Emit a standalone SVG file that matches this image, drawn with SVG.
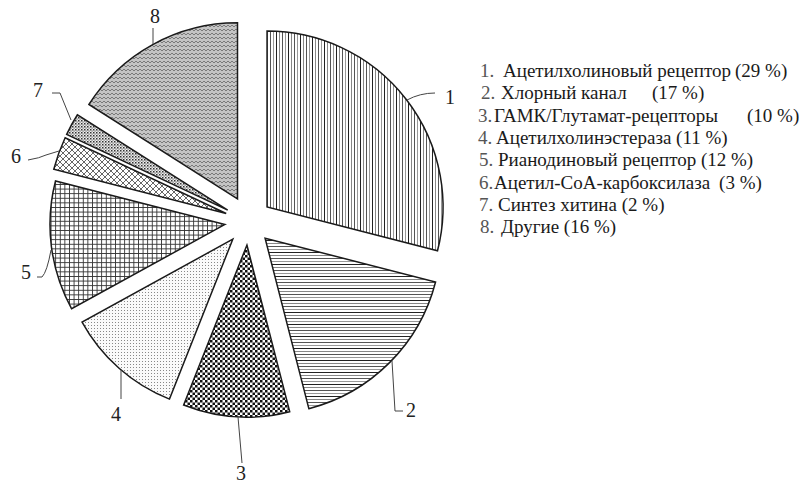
<svg xmlns="http://www.w3.org/2000/svg" width="803" height="484" viewBox="0 0 803 484">
<style>
.slice{stroke:#1a1a1a;stroke-width:1.5;stroke-linejoin:miter}
.lead{fill:none;stroke:#444;stroke-width:1}
.num{font-family:"Liberation Serif","Times New Roman",serif;font-size:20px;fill:#222;text-anchor:middle}
.leg{font-family:"Liberation Serif","Times New Roman",serif;font-size:19px;fill:#1a1a1a}
.ln{fill:#555}
</style>
<defs>
<pattern id="p1" width="12" height="4" patternUnits="userSpaceOnUse">
<rect width="12" height="4" fill="#fff"/>
<rect x="0" width="1" height="4" fill="#222"/>
<rect x="3" width="1" height="4" fill="#888"/>
<rect x="6" width="1" height="4" fill="#555"/>
<rect x="9" width="1" height="4" fill="#999"/>
</pattern>
<pattern id="p2" width="4" height="12" patternUnits="userSpaceOnUse">
<rect width="4" height="12" fill="#fff"/>
<rect y="0" width="4" height="1" fill="#222"/>
<rect y="3" width="4" height="1" fill="#888"/>
<rect y="6" width="4" height="1" fill="#555"/>
<rect y="9" width="4" height="1" fill="#999"/>
</pattern>
<pattern id="p3" width="5" height="5" patternUnits="userSpaceOnUse">
<rect width="5" height="5" fill="#fff"/>
<rect width="2.5" height="2.5" fill="#111"/>
<rect x="2.5" y="2.5" width="2.5" height="2.5" fill="#111"/>
</pattern>
<pattern id="p4" width="3" height="3" patternUnits="userSpaceOnUse">
<rect width="3" height="3" fill="#fafafa"/>
<rect x="1" y="1" width="1" height="1" fill="#888"/>
</pattern>
<pattern id="p5" width="4.6" height="4.6" patternUnits="userSpaceOnUse">
<rect width="4.6" height="4.6" fill="#fff"/>
<rect width="0.9" height="4.6" fill="#333"/>
<rect width="4.6" height="0.9" fill="#333"/>
</pattern>
<pattern id="p6" width="6" height="6" patternUnits="userSpaceOnUse">
<rect width="6" height="6" fill="#fff"/>
<path d="M0,0 L6,6 M6,0 L0,6" stroke="#555" stroke-width="0.9"/>
</pattern>
<pattern id="p7" width="3" height="3" patternUnits="userSpaceOnUse">
<rect width="3" height="3" fill="#eee"/>
<rect width="1.5" height="1.5" fill="#333"/>
<rect x="1.5" y="1.5" width="1.2" height="1.2" fill="#666"/>
</pattern>
<pattern id="p8" width="4" height="4" patternUnits="userSpaceOnUse">
<rect width="4" height="4" fill="#c4c4c4"/>
<path d="M0,1 L2,3 L4,1" fill="none" stroke="#7a7a7a" stroke-width="1"/>
</pattern>
</defs>
<rect width="803" height="484" fill="#fff"/>
<g id="slice1"><path class="slice" fill="url(#p1)" d="M267.05,207.04 L267.05,31.04 A176,176 0 0 1 437.52,250.81 Z"/></g>
<g id="slice2"><path class="slice" fill="url(#p2)" d="M265.09,238.19 L435.56,281.96 A176,176 0 0 1 308.86,408.66 Z"/></g>
<g id="slice3"><path class="slice" fill="url(#p3)" d="M246.92,245.05 L289.70,411.65 A172,172 0 0 1 183.61,404.98 Z"/></g>
<g id="slice4"><path class="slice" fill="url(#p4)" d="M232.79,239.2 L169.48,399.13 A172,172 0 0 1 82.07,322.07 Z"/></g>
<g id="slice5"><path class="slice" fill="url(#p5)" d="M224.99,224.46 L71.64,308.78 A175,175 0 0 1 55.49,180.94 Z"/></g>
<g id="slice6"><path class="slice" fill="url(#p6)" d="M226.2,213.5 L53.79,169.23 A178,178 0 0 1 65.15,137.71 Z"/></g>
<g id="slice7"><path class="slice" fill="url(#p7)" d="M227.72,210.13 L66.67,134.34 A178,178 0 0 1 77.43,114.76 Z"/></g>
<g id="slice8"><path class="slice" fill="url(#p8)" d="M237.5,198.8 L88.9,104.5 A176,176 0 0 1 237.5,22.8 Z"/></g>
<g id="connectors">
<path class="lead" d="M407,100 Q420,93 435,93"/>
<path class="lead" d="M392,361 L395,411 L403,411"/>
<path class="lead" d="M238,417 L242,463"/>
<path class="lead" d="M121,370 L121,399"/>
<path class="lead" d="M51,250 Q47,272 42,277 L37,277"/>
<path class="lead" d="M28,160 Q40,158 46,155 L59,151"/>
<path class="lead" d="M52,93 L60,93 L71,120"/>
<path class="lead" d="M153,28 L153,44"/>
</g>
<g id="labels">
<text class="num" x="450" y="104">1</text>
<text class="num" x="411" y="417">2</text>
<text class="num" x="241" y="480">3</text>
<text class="num" x="116" y="421">4</text>
<text class="num" x="26" y="279">5</text>
<text class="num" x="16" y="163">6</text>
<text class="num" x="38" y="97">7</text>
<text class="num" x="155" y="23">8</text>
</g>
<g id="legend">
<text class="leg" y="77"><tspan class="ln" x="480">1.</tspan><tspan x="503">Ацетилхолиновый рецептор</tspan><tspan x="735">(29 %)</tspan></text>
<text class="leg" y="99.3"><tspan class="ln" x="481">2.</tspan><tspan x="501">Хлорный канал</tspan><tspan x="652">(17 %)</tspan></text>
<text class="leg" y="121.6"><tspan class="ln" x="478">3.</tspan><tspan x="494">ГАМК/Глутамат-рецепторы</tspan><tspan x="747">(10 %)</tspan></text>
<text class="leg" y="143.9"><tspan class="ln" x="478">4.</tspan><tspan x="496">Ацетилхолинэстераза (11 %)</tspan></text>
<text class="leg" y="166.2"><tspan class="ln" x="479">5.</tspan><tspan x="498">Рианодиновый рецептор (12 %)</tspan></text>
<text class="leg" y="188.5"><tspan class="ln" x="479">6.</tspan><tspan x="494">Ацетил-СоА-карбоксилаза</tspan><tspan dx="9">(3 %)</tspan></text>
<text class="leg" y="210.8"><tspan class="ln" x="479">7.</tspan><tspan x="498">Синтез хитина (2 %)</tspan></text>
<text class="leg" y="233"><tspan class="ln" x="480">8.</tspan><tspan x="501">Другие (16 %)</tspan></text>
</g>
</svg>
